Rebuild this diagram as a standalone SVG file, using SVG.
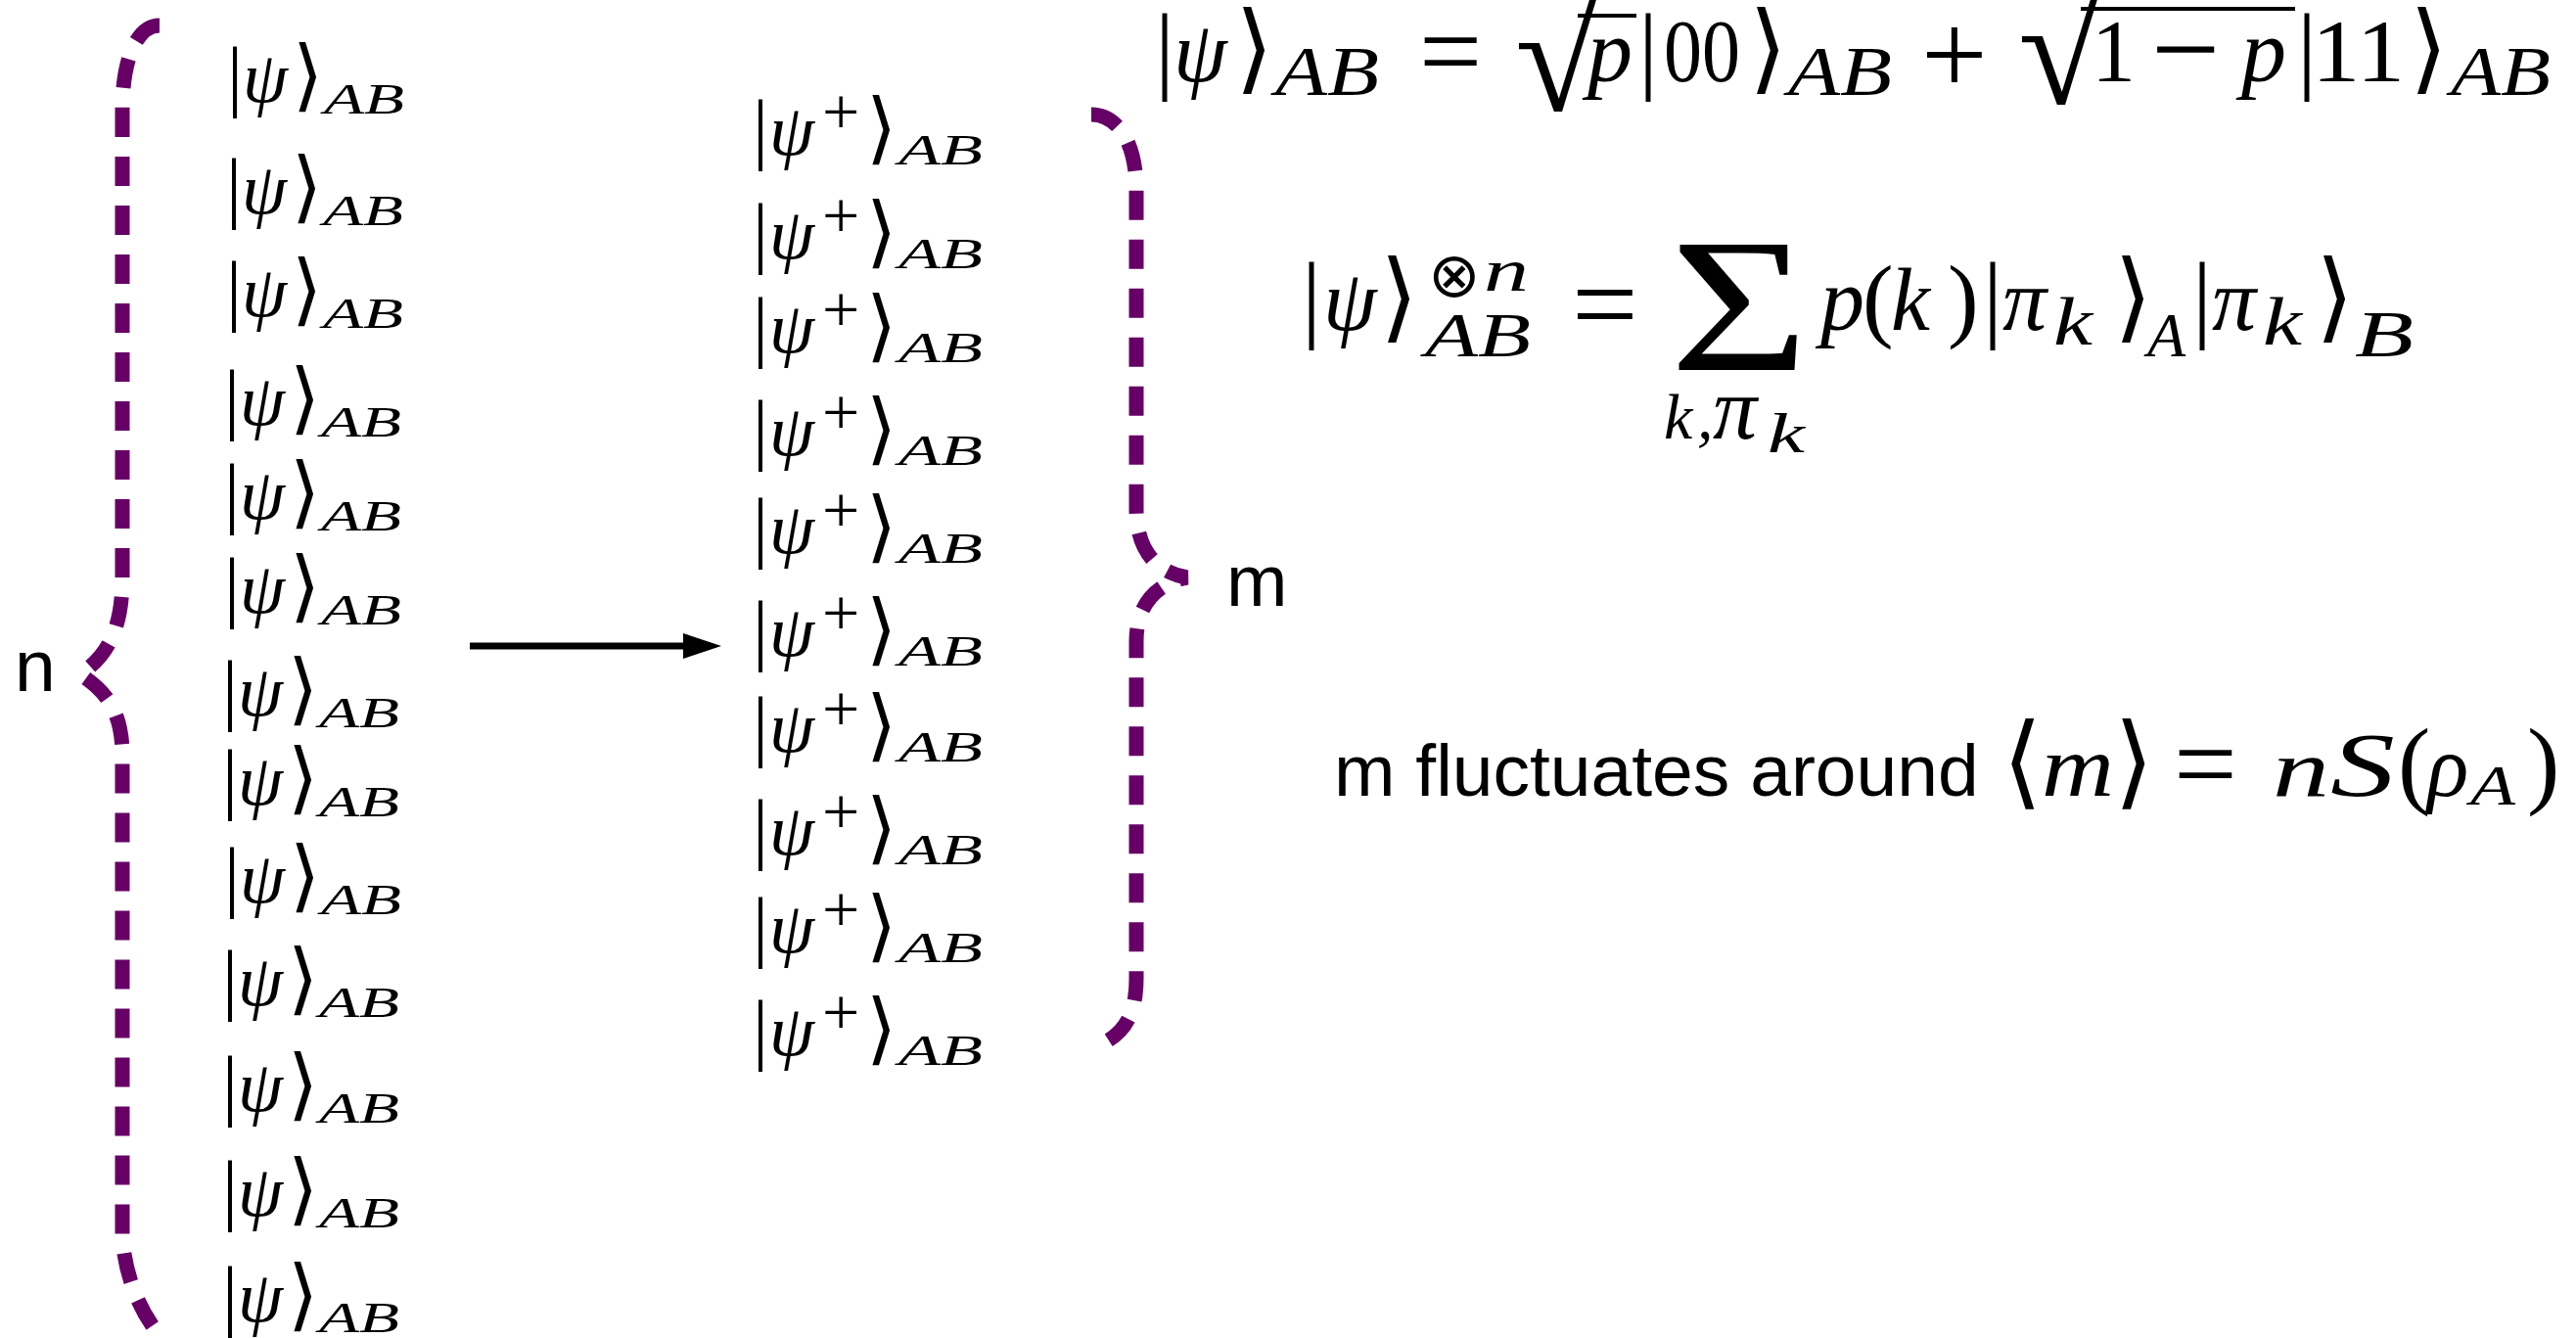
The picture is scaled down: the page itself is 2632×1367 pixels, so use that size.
<svg xmlns="http://www.w3.org/2000/svg" width="2632" height="1367" viewBox="0 0 2632 1367">
<style>
.s{font-family:"Liberation Serif","DejaVu Serif",serif;fill:#000}
.i{font-family:"Liberation Serif","DejaVu Serif",serif;font-style:italic;fill:#000}
.a{font-family:"DejaVu Sans","Liberation Serif",sans-serif;fill:#000}
.l{font-family:"Liberation Sans",Arial,sans-serif;font-size:75px;fill:#000}
.kb{font-size:80px}
.kp{font-size:74px}
.ka{font-size:80px}
.ks{font-size:44px}
.eb{font-size:100px}
.ep{font-size:88px}
.ea{font-size:100px}
.es{font-size:72px}
.brace{fill:none;stroke:#660066;stroke-width:15;stroke-dasharray:30 20}
.rule{stroke:#000;stroke-width:4}
</style>
<defs>
<marker id="ah" markerUnits="userSpaceOnUse" viewBox="0 0 39 26" refX="1" refY="13" markerWidth="39" markerHeight="26" orient="auto">
<path d="M0,0 L39,13 L0,26 z" fill="#000"/>
</marker>
</defs>
<rect width="2632" height="1367" fill="#fff"/>

<g id="connectors">
<path id="brace-n" class="brace" d="M163,26 C140,26 125,60 125,112 L125,590 C125,640 112,668 82,689 C108,706 123,725 125,765 L125,1262 C127,1305 145,1345 168,1370"/>
<path id="brace-m" class="brace" d="M1115,117 C1135,117 1161,135 1161,195 L1161,520 C1161,560 1180,585 1213,590 C1185,595 1161,615 1161,655 L1161,1000 C1161,1035 1150,1055 1125,1067"/>
<line id="arrow" x1="480" y1="660" x2="699" y2="660" stroke="#000" stroke-width="7" marker-end="url(#ah)"/>
</g>

<g id="label-n"><text class="l" x="15" y="706">n</text></g>
<g id="label-m"><text class="l" x="1253" y="619">m</text></g>

<g id="left-states">
<g id="psiL1" transform="translate(238,104)"><text class="s kb" x="-6">|</text><text class="i kp" x="10">ψ</text><text class="a ka" x="61">⟩</text><text class="i ks" x="93" y="12" textLength="82" lengthAdjust="spacingAndGlyphs">AB</text></g>
<g id="psiL2" transform="translate(237,218)"><text class="s kb" x="-6">|</text><text class="i kp" x="10">ψ</text><text class="a ka" x="61">⟩</text><text class="i ks" x="93" y="12" textLength="82" lengthAdjust="spacingAndGlyphs">AB</text></g>
<g id="psiL3" transform="translate(237,323)"><text class="s kb" x="-6">|</text><text class="i kp" x="10">ψ</text><text class="a ka" x="61">⟩</text><text class="i ks" x="93" y="12" textLength="82" lengthAdjust="spacingAndGlyphs">AB</text></g>
<g id="psiL4" transform="translate(235,434)"><text class="s kb" x="-6">|</text><text class="i kp" x="10">ψ</text><text class="a ka" x="61">⟩</text><text class="i ks" x="93" y="12" textLength="82" lengthAdjust="spacingAndGlyphs">AB</text></g>
<g id="psiL5" transform="translate(235,530)"><text class="s kb" x="-6">|</text><text class="i kp" x="10">ψ</text><text class="a ka" x="61">⟩</text><text class="i ks" x="93" y="12" textLength="82" lengthAdjust="spacingAndGlyphs">AB</text></g>
<g id="psiL6" transform="translate(235,626)"><text class="s kb" x="-6">|</text><text class="i kp" x="10">ψ</text><text class="a ka" x="61">⟩</text><text class="i ks" x="93" y="12" textLength="82" lengthAdjust="spacingAndGlyphs">AB</text></g>
<g id="psiL7" transform="translate(233,731)"><text class="s kb" x="-6">|</text><text class="i kp" x="10">ψ</text><text class="a ka" x="61">⟩</text><text class="i ks" x="93" y="12" textLength="82" lengthAdjust="spacingAndGlyphs">AB</text></g>
<g id="psiL8" transform="translate(233,822)"><text class="s kb" x="-6">|</text><text class="i kp" x="10">ψ</text><text class="a ka" x="61">⟩</text><text class="i ks" x="93" y="12" textLength="82" lengthAdjust="spacingAndGlyphs">AB</text></g>
<g id="psiL9" transform="translate(235,922)"><text class="s kb" x="-6">|</text><text class="i kp" x="10">ψ</text><text class="a ka" x="61">⟩</text><text class="i ks" x="93" y="12" textLength="82" lengthAdjust="spacingAndGlyphs">AB</text></g>
<g id="psiL10" transform="translate(233,1027)"><text class="s kb" x="-6">|</text><text class="i kp" x="10">ψ</text><text class="a ka" x="61">⟩</text><text class="i ks" x="93" y="12" textLength="82" lengthAdjust="spacingAndGlyphs">AB</text></g>
<g id="psiL11" transform="translate(233,1135)"><text class="s kb" x="-6">|</text><text class="i kp" x="10">ψ</text><text class="a ka" x="61">⟩</text><text class="i ks" x="93" y="12" textLength="82" lengthAdjust="spacingAndGlyphs">AB</text></g>
<g id="psiL12" transform="translate(233,1242)"><text class="s kb" x="-6">|</text><text class="i kp" x="10">ψ</text><text class="a ka" x="61">⟩</text><text class="i ks" x="93" y="12" textLength="82" lengthAdjust="spacingAndGlyphs">AB</text></g>
<g id="psiL13" transform="translate(233,1350)"><text class="s kb" x="-6">|</text><text class="i kp" x="10">ψ</text><text class="a ka" x="61">⟩</text><text class="i ks" x="93" y="11" textLength="82" lengthAdjust="spacingAndGlyphs">AB</text></g>
</g>

<g id="right-states">
<g id="psiR1" transform="translate(775,158)"><text class="s kb" x="-6">|</text><text class="i kp" x="11">ψ</text><text class="s" x="65" y="-21" font-size="68">+</text><text class="a ka" x="110">⟩</text><text class="i ks" x="143" y="10" textLength="86" lengthAdjust="spacingAndGlyphs">AB</text></g>
<g id="psiR2" transform="translate(775,264)"><text class="s kb" x="-6">|</text><text class="i kp" x="11">ψ</text><text class="s" x="65" y="-21" font-size="68">+</text><text class="a ka" x="110">⟩</text><text class="i ks" x="143" y="10" textLength="86" lengthAdjust="spacingAndGlyphs">AB</text></g>
<g id="psiR3" transform="translate(775,360)"><text class="s kb" x="-6">|</text><text class="i kp" x="11">ψ</text><text class="s" x="65" y="-21" font-size="68">+</text><text class="a ka" x="110">⟩</text><text class="i ks" x="143" y="10" textLength="86" lengthAdjust="spacingAndGlyphs">AB</text></g>
<g id="psiR4" transform="translate(775,465)"><text class="s kb" x="-6">|</text><text class="i kp" x="11">ψ</text><text class="s" x="65" y="-21" font-size="68">+</text><text class="a ka" x="110">⟩</text><text class="i ks" x="143" y="10" textLength="86" lengthAdjust="spacingAndGlyphs">AB</text></g>
<g id="psiR5" transform="translate(775,565)"><text class="s kb" x="-6">|</text><text class="i kp" x="11">ψ</text><text class="s" x="65" y="-21" font-size="68">+</text><text class="a ka" x="110">⟩</text><text class="i ks" x="143" y="10" textLength="86" lengthAdjust="spacingAndGlyphs">AB</text></g>
<g id="psiR6" transform="translate(775,670)"><text class="s kb" x="-6">|</text><text class="i kp" x="11">ψ</text><text class="s" x="65" y="-21" font-size="68">+</text><text class="a ka" x="110">⟩</text><text class="i ks" x="143" y="10" textLength="86" lengthAdjust="spacingAndGlyphs">AB</text></g>
<g id="psiR7" transform="translate(775,768)"><text class="s kb" x="-6">|</text><text class="i kp" x="11">ψ</text><text class="s" x="65" y="-21" font-size="68">+</text><text class="a ka" x="110">⟩</text><text class="i ks" x="143" y="10" textLength="86" lengthAdjust="spacingAndGlyphs">AB</text></g>
<g id="psiR8" transform="translate(775,873)"><text class="s kb" x="-6">|</text><text class="i kp" x="11">ψ</text><text class="s" x="65" y="-21" font-size="68">+</text><text class="a ka" x="110">⟩</text><text class="i ks" x="143" y="10" textLength="86" lengthAdjust="spacingAndGlyphs">AB</text></g>
<g id="psiR9" transform="translate(775,973)"><text class="s kb" x="-6">|</text><text class="i kp" x="11">ψ</text><text class="s" x="65" y="-21" font-size="68">+</text><text class="a ka" x="110">⟩</text><text class="i ks" x="143" y="10" textLength="86" lengthAdjust="spacingAndGlyphs">AB</text></g>
<g id="psiR10" transform="translate(775,1078)"><text class="s kb" x="-6">|</text><text class="i kp" x="11">ψ</text><text class="s" x="65" y="-21" font-size="68">+</text><text class="a ka" x="110">⟩</text><text class="i ks" x="143" y="10" textLength="86" lengthAdjust="spacingAndGlyphs">AB</text></g>
</g>

<g id="eq-state">
<text class="s eb" x="1180" y="83">|</text>
<text class="i ep" x="1199" y="83">ψ</text>
<text class="a ea" x="1262" y="83">⟩</text>
<text class="i es" x="1303" y="97" textLength="106" lengthAdjust="spacingAndGlyphs">AB</text>
<text class="s" x="1450" y="91" font-size="114">=</text>
<text class="s" x="1548" y="113" font-size="158">√</text>
<line class="rule" x1="1612" y1="16" x2="1672" y2="16"/>
<text class="i" x="1622" y="83" font-size="92">p</text>
<text class="s eb" x="1674" y="83">|</text>
<text class="s" x="1700" y="83" font-size="90" textLength="78" lengthAdjust="spacingAndGlyphs">00</text>
<text class="a ea" x="1787" y="83">⟩</text>
<text class="i es" x="1827" y="97" textLength="106" lengthAdjust="spacingAndGlyphs">AB</text>
<text class="s" x="1963" y="96" font-size="120">+</text>
<text class="s" x="2062" y="106" font-size="158">√</text>
<line class="rule" x1="2126" y1="9" x2="2345" y2="9"/>
<text class="s" x="2137" y="83" font-size="90">1</text>
<text class="s" x="2198" y="92" font-size="125">−</text>
<text class="i" x="2290" y="83" font-size="92">p</text>
<text class="s eb" x="2347" y="83">|</text>
<text class="s" x="2362" y="83" font-size="90" textLength="95" lengthAdjust="spacingAndGlyphs">11</text>
<text class="a ea" x="2462" y="83">⟩</text>
<text class="i es" x="2504" y="97" textLength="102" lengthAdjust="spacingAndGlyphs">AB</text>
</g>

<g id="eq-tensor">
<text class="s eb" x="1330" y="337">|</text>
<text class="i ep" x="1352" y="337">ψ</text>
<text class="a ea" x="1410" y="337">⟩</text>
<text class="a" x="1459" y="303" font-size="64">⊗</text>
<text class="i" x="1516" y="297" font-size="62" textLength="46" lengthAdjust="spacingAndGlyphs">n</text>
<text class="i" x="1456" y="364" font-size="64" textLength="108" lengthAdjust="spacingAndGlyphs">AB</text>
<text class="s" x="1606" y="351" font-size="120">=</text>
<text class="s" x="1706" y="378" font-size="194" textLength="142" lengthAdjust="spacingAndGlyphs">Σ</text>
<text class="i" x="1860" y="337" font-size="90">p</text>
<text class="s" x="1903" y="337" font-size="95">(</text>
<text class="i" x="1932" y="337" font-size="90">k</text>
<text class="s" x="1990" y="337" font-size="95">)</text>
<text class="s eb" x="2026" y="337">|</text>
<text class="i" x="2046" y="337" font-size="90">π</text>
<text class="i" x="2098" y="352" font-size="70" textLength="40" lengthAdjust="spacingAndGlyphs">k</text>
<text class="a ea" x="2160" y="337">⟩</text>
<text class="i" x="2194" y="364" font-size="64">A</text>
<text class="s eb" x="2240" y="337">|</text>
<text class="i" x="2260" y="337" font-size="90">π</text>
<text class="i" x="2312" y="352" font-size="70" textLength="40" lengthAdjust="spacingAndGlyphs">k</text>
<text class="a ea" x="2366" y="337">⟩</text>
<text class="i" x="2406" y="364" font-size="68" textLength="60" lengthAdjust="spacingAndGlyphs">B</text>
<text class="i" x="1700" y="448" font-size="66">k</text>
<text class="i" x="1734" y="448" font-size="66">,</text>
<text class="i" x="1750" y="448" font-size="90">π</text>
<text class="i" x="1806" y="462" font-size="56" textLength="38" lengthAdjust="spacingAndGlyphs">k</text>
</g>

<g id="eq-mean">
<text class="l" x="1363" y="813">m fluctuates around</text>
<text class="a" x="2046" y="813" font-size="104">⟨</text>
<text class="i" x="2086" y="813" font-size="88" textLength="74" lengthAdjust="spacingAndGlyphs">m</text>
<text class="a" x="2160" y="813" font-size="104">⟩</text>
<text class="s" x="2221" y="819" font-size="115">=</text>
<text class="i" x="2322" y="813" font-size="82" textLength="58" lengthAdjust="spacingAndGlyphs">n</text>
<text class="i" x="2381" y="813" font-size="94" textLength="66" lengthAdjust="spacingAndGlyphs">S</text>
<text class="s" x="2450" y="813" font-size="100">(</text>
<text class="i" x="2480" y="813" font-size="88">ρ</text>
<text class="i" x="2524" y="822" font-size="56" textLength="46" lengthAdjust="spacingAndGlyphs">A</text>
<text class="s" x="2582" y="813" font-size="100">)</text>
</g>
</svg>
